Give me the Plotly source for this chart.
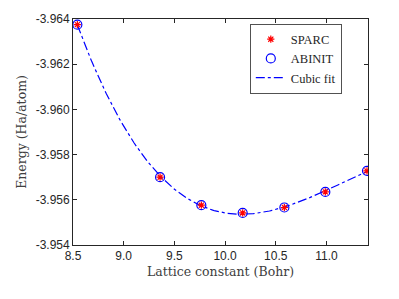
import numpy as np
import plotly.graph_objects as go

lattice = [8.543, 9.359, 9.766, 10.174, 10.585, 10.989, 11.400]
energy_sparc = [-3.96375, -3.95700, -3.95576, -3.95542, -3.95566, -3.95635, -3.95728]
energy_abinit = [-3.96375, -3.95700, -3.95576, -3.95542, -3.95566, -3.95635, -3.95728]

x_ticks = [8.5, 9.0, 9.5, 10.0, 10.5, 11.0]
x_ticktext = ["8.5", "9.0", "9.5", "10.0", "10.5", "11.0"]
y_ticks = [-3.964, -3.962, -3.960, -3.958, -3.956, -3.954]
y_ticktext = ["-3.964", "-3.962", "-3.960", "-3.958", "-3.956", "-3.954"]

# cubic fit of the data
coef = np.polyfit(lattice, energy_abinit, 3)
xf = np.linspace(min(lattice), max(lattice), 200)
yf = np.polyval(coef, xf)

axcol = "#262626"
serif = "DejaVu Serif"
fig = go.Figure()
fig.add_trace(go.Scatter(x=xf, y=yf, mode="lines", name="Cubic fit",
                         line=dict(color="#0000ff", width=1.2, dash="dashdot"),
                         showlegend=False))
fig.add_trace(go.Scatter(x=lattice, y=energy_abinit, mode="markers", name="ABINIT",
                         marker=dict(symbol="circle-open", size=9, color="#0000ff",
                                     line=dict(width=1.2, color="#0000ff")),
                         showlegend=False))
fig.add_trace(go.Scatter(x=lattice, y=energy_sparc, mode="markers", name="SPARC",
                         marker=dict(symbol="asterisk-open", size=6, color="#ff0000",
                                     line=dict(width=1.2, color="#ff0000")),
                         legendrank=1))
fig.add_trace(go.Scatter(x=[None], y=[None], mode="markers", name="ABINIT",
                         marker=dict(symbol="circle-open", size=9, color="#0000ff",
                                     line=dict(width=1.2, color="#0000ff")),
                         legendrank=2))
fig.add_trace(go.Scatter(x=[None], y=[None], mode="lines", name="Cubic fit",
                         line=dict(color="#0000ff", width=1.2, dash="dashdot"),
                         legendrank=3))

fig.update_layout(
    width=399, height=299,
    margin=dict(l=64.6, r=39, t=11.3, b=62.3),
    paper_bgcolor="white", plot_bgcolor="white",
    font=dict(family="Liberation Sans, Arial", size=12, color=axcol),
    legend=dict(x=0.6, y=0.979, xanchor="left", yanchor="top",
                bgcolor="white", bordercolor=axcol, borderwidth=0.8,
                font=dict(family="Liberation Serif", size=12.5, color=axcol),
                tracegroupgap=0, itemwidth=30, entrywidth=70),
    xaxis=dict(range=[8.5, 11.41], tickvals=x_ticks, ticktext=x_ticktext,
               ticks="inside", ticklen=4, tickcolor=axcol, showline=True,
               linecolor=axcol, linewidth=0.8, mirror="ticks", showgrid=False,
               zeroline=False, automargin=False, tickfont=dict(size=12),
               title=dict(text="Lattice constant (Bohr)",
                          font=dict(family=serif, size=12.5, color="#404040"),
                          standoff=4)),
    yaxis=dict(range=[-3.954, -3.964], tickvals=y_ticks, ticktext=y_ticktext,
               ticks="inside", ticklen=4, tickcolor=axcol, showline=True,
               linecolor=axcol, linewidth=0.8, mirror="ticks", showgrid=False,
               zeroline=False, automargin=False, tickfont=dict(size=12),
               title=dict(text="Energy (Ha/atom)",
                          font=dict(family=serif, size=12.5, color="#404040"),
                          standoff=6)),
)
fig.write_html("out.html")
